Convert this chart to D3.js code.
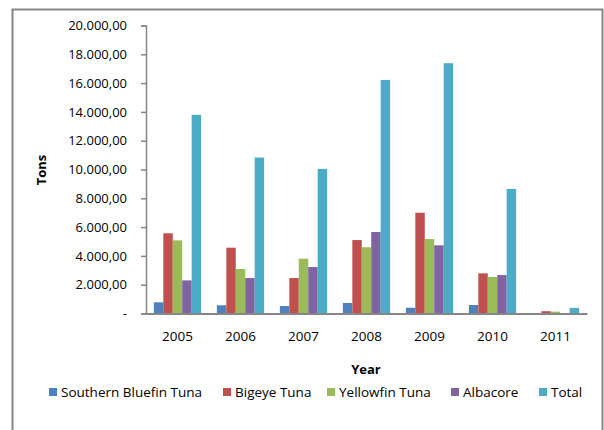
<!DOCTYPE html>
<html>
<head>
<meta charset="utf-8">
<script src="https://cdn.jsdelivr.net/npm/d3@7"></script>
<style>
  body { margin: 0; background: #fff; }
  text { font-family: "Open Sans", "Liberation Sans", Arial, sans-serif; fill: #000; }
</style>
</head>
<body>
<div id="chart"></div>
<script>
// Catch by species, tons
const years = ['2005', '2006', '2007', '2008', '2009', '2010', '2011'];
const seriesNames = ['Southern Bluefin Tuna', 'Bigeye Tuna', 'Yellowfin Tuna', 'Albacore', 'Total'];
const southernBluefin = [780, 570, 520, 730, 400, 590, 0];
const bigeye = [5570, 4570, 2465, 5100, 7000, 2790, 160];
const yellowfin = [5080, 3090, 3805, 4600, 5170, 2535, 130];
const albacore = [2300, 2465, 3230, 5660, 4735, 2670, 0];
const total = [13800, 10830, 10040, 16220, 17380, 8650, 390];
const yTicks = [0, 2000, 4000, 6000, 8000, 10000, 12000, 14000, 16000, 18000, 20000];

const colors = ['#4F81BD', '#C0504D', '#9BBB59', '#8064A2', '#4BACC6'];
const allSeries = [southernBluefin, bigeye, yellowfin, albacore, total];

const width = 604, height = 430;
const margin = { left: 146, right: 17, top: 25.5, bottom: 116.5 };
const font = '"Open Sans", "Liberation Sans", Arial, sans-serif';

const svg = d3.select('#chart').append('svg')
    .attr('width', width)
    .attr('height', height);

// outer frame
svg.append('rect')
    .attr('x', 12.5).attr('y', 9.5)
    .attr('width', 590).attr('height', 440)
    .attr('fill', 'none')
    .attr('stroke', '#868686')
    .attr('stroke-width', 2);

const x = d3.scaleBand()
    .domain(years)
    .range([margin.left, width - margin.right])
    .paddingInner(0.25)
    .paddingOuter(0.125);

const x1 = d3.scaleBand()
    .domain(d3.range(seriesNames.length))
    .range([0, x.bandwidth()]);

const y = d3.scaleLinear()
    .domain([0, 20000])
    .range([height - margin.bottom, margin.top]);

// bars
const groups = svg.append('g')
    .selectAll('g')
    .data(allSeries)
    .join('g')
    .attr('fill', (d, i) => colors[i]);

groups.each(function(vals, si) {
    d3.select(this).selectAll('rect')
        .data(vals)
        .join('rect')
        .attr('x', (d, i) => x(years[i]) + x1(si))
        .attr('width', x1.bandwidth())
        .attr('y', d => y(d))
        .attr('height', d => y(0) - y(d));
});

// y axis
const fmt = v => v === 0 ? '-' : d3.format(',.2f')(v).replace(/,/g, '#').replace('.', ',').replace(/#/g, '.');
const yAxis = svg.append('g')
    .attr('transform', `translate(${margin.left},0)`)
    .call(d3.axisLeft(y).tickValues(yTicks).tickFormat(fmt).tickSize(5).tickPadding(14));
yAxis.selectAll('path, line').attr('stroke', '#868686').attr('stroke-width', 1.5);
yAxis.selectAll('text').attr('font-size', 13).style('font-family', font);

// x axis
const xAxis = svg.append('g')
    .attr('transform', `translate(0,${y(0)})`)
    .call(d3.axisBottom(x).tickSize(0).tickPadding(18));
xAxis.select('path').attr('stroke', '#868686').attr('stroke-width', 2);
xAxis.selectAll('text').attr('font-size', 13.5).style('font-family', font);

// axis titles
svg.append('text')
    .attr('x', 366).attr('y', 374)
    .attr('text-anchor', 'middle')
    .attr('font-size', 13).attr('font-weight', 'bold')
    .text('Year');

svg.append('text')
    .attr('transform', 'translate(46,170) rotate(-90)')
    .attr('text-anchor', 'middle')
    .attr('font-size', 13).attr('font-weight', 'bold')
    .text('Tons');

// legend
const legendX = [49, 223, 327, 451, 539];
const legend = svg.append('g')
    .selectAll('g')
    .data(seriesNames)
    .join('g')
    .attr('transform', (d, i) => `translate(${legendX[i]},388)`);
legend.append('rect')
    .attr('width', 8).attr('height', 8)
    .attr('fill', (d, i) => colors[i]);
legend.append('text')
    .attr('x', 12).attr('y', 9)
    .attr('font-size', 13.5)
    .text(d => d);
</script>
</body>
</html>
